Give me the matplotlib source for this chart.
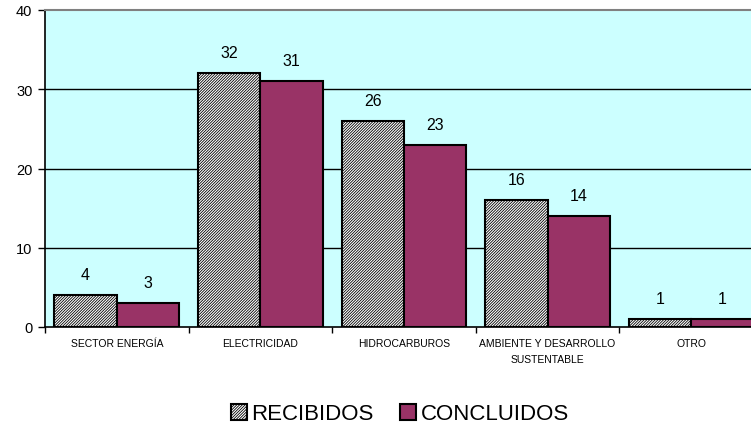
import matplotlib
matplotlib.use("Agg")
import matplotlib.pyplot as plt
import numpy as np

plt.rcParams['font.family'] = ['Liberation Sans', 'DejaVu Sans']
plt.rcParams['hatch.linewidth'] = 0.6

categorias = ["SECTOR ENERGÍA", "ELECTRICIDAD", "HIDROCARBUROS",
              "AMBIENTE Y DESARROLLO\nSUSTENTABLE", "OTRO"]
recibidos = [4, 32, 26, 16, 1]
concluidos = [3, 31, 23, 14, 1]

fondo = "#CCFFFF"
granate = "#993366"

fig = plt.figure(figsize=(7.51, 4.31), dpi=100)
ax = fig.add_axes([45 / 751, 103 / 431, 718 / 751, 317 / 431])
ax.set_facecolor(fondo)

x = np.arange(len(categorias))
ancho = 0.435

b1 = ax.bar(x - ancho / 2, recibidos, ancho, color="white", edgecolor="black",
            hatch="/" * 12, linewidth=1.5, label="RECIBIDOS", zorder=3)
b2 = ax.bar(x + ancho / 2, concluidos, ancho, color=granate, edgecolor="black",
            linewidth=1.5, label="CONCLUIDOS", zorder=3)

for barras, vals in ((b1, recibidos), (b2, concluidos)):
    for b, v in zip(barras, vals):
        ax.text(b.get_x() + b.get_width() / 2, v + 2.6, str(v),
                ha="center", va="center", fontsize=11.5)

ax.set_xlim(-0.5, len(categorias) - 0.5)
ax.set_ylim(0, 40)
ax.set_yticks([0, 10, 20, 30, 40])
ax.tick_params(axis="y", labelsize=10.5, length=5, width=1, direction="out", pad=4)
for yv in (10, 20, 30):
    ax.axhline(yv, color="black", linewidth=1, zorder=1)

ax.set_xticks(np.arange(-0.5, len(categorias), 1.0))
ax.set_xticklabels([])
ax.tick_params(axis="x", which="major", length=4, width=1, direction="out")
ax.set_xticks(x, minor=True)
ax.set_xticklabels(categorias, minor=True, fontsize=7.5, linespacing=1.7)
ax.tick_params(axis="x", which="minor", length=0, pad=8)

ax.spines["right"].set_visible(False)
ax.spines["top"].set_color("#808080")
ax.spines["top"].set_linewidth(1.5)
ax.spines["left"].set_linewidth(1.2)
ax.spines["bottom"].set_linewidth(1.2)

fig.legend(handles=[b1, b2], loc="center", bbox_to_anchor=(400 / 751, 1 - 415 / 431),
           ncol=2, frameon=False, fontsize=16, handlelength=0.7, handleheight=0.7,
           handletextpad=0.2, columnspacing=1.2)

fig.savefig("out.png", dpi=100, facecolor="white")
